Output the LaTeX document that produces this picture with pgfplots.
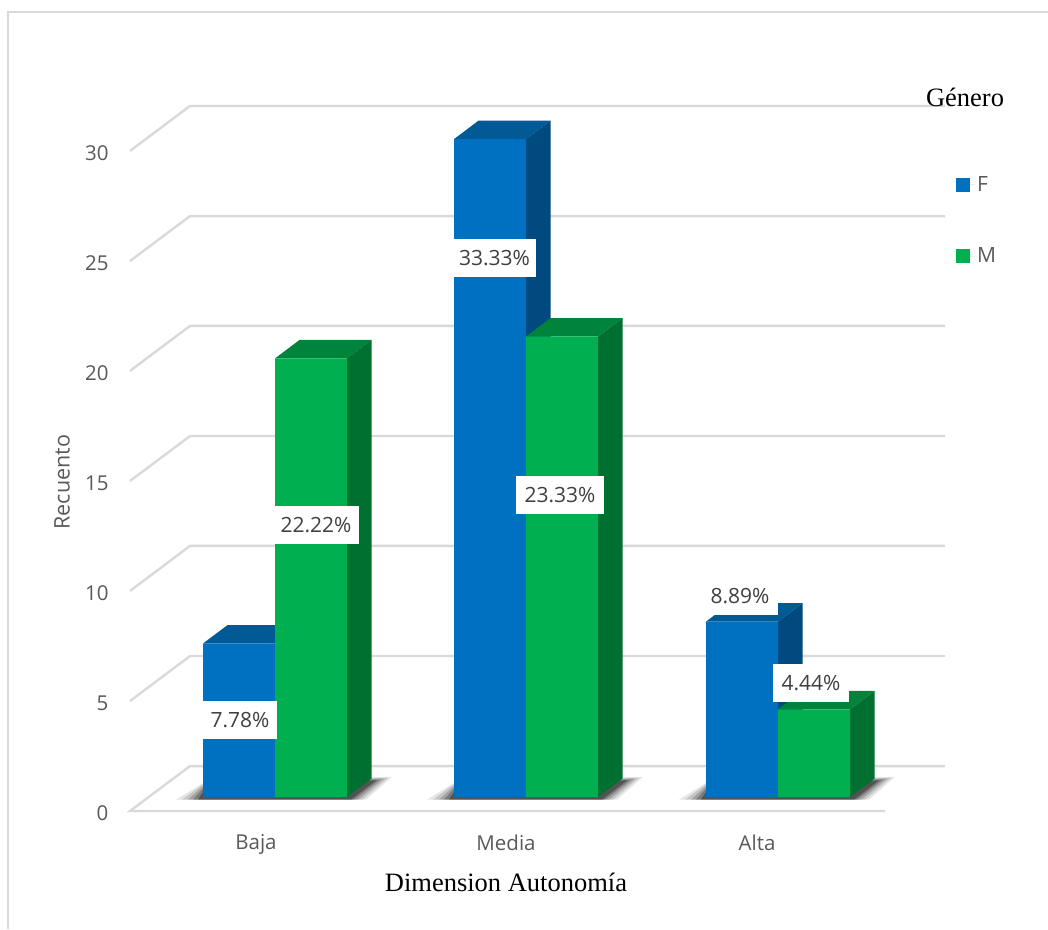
\documentclass[border=0pt]{standalone}
\usepackage{pgfplots}
\pgfplotsset{compat=1.18}
\usepackage{fontspec}
\setmainfont{Open Sans}
\newfontfamily\timesf{Liberation Serif}
\definecolor{Fc}{HTML}{0070C0}
\definecolor{Ft}{HTML}{005A96}
\definecolor{Fs}{HTML}{004A80}
\definecolor{Mc}{HTML}{00B050}
\definecolor{Mt}{HTML}{00843C}
\definecolor{Ms}{HTML}{007030}
\definecolor{gl}{HTML}{D9D9D9}
\definecolor{tx}{HTML}{595959}
\definecolor{dl}{HTML}{404040}
\begin{document}
\begin{tikzpicture}[x=1pt,y=1pt]
\useasboundingbox (0,0) rectangle (1048,929);
\begin{axis}[
  at={(120pt,118pt)},anchor=south west,
  scale only axis,width=928pt,height=811pt,
  xmin=120,xmax=1048,ymin=-0.638,ymax=36.343,
  clip=false,
  axis line style={draw=none},
  major tick length=0pt,
  xtick={256,506,757},xticklabels={Baja,Media,Alta},
  ytick={-0.638,4.378,9.394,14.41,19.43,24.44,29.46},
  yticklabels={0,5,10,15,20,25,30},
  /pgf/number format/assume math mode=true,
  ticklabel style={font=\fontsize{20.5}{24}\selectfont,text=tx},
  yticklabel style={xshift=-8pt,yshift=-2pt},
  xticklabel style={yshift=-20pt},
  legend image code/.code={\path (0pt,0pt) -- (19pt,0pt);\fill[#1] (0pt,-7pt) rectangle (14pt,7pt);},
  legend style={at={(axis cs:956,28.4)},anchor=north west,draw=none,fill=none,
    font=\fontsize{21}{24}\selectfont,text=tx,row sep=51pt,inner sep=0pt,
    cells={anchor=west}},
]
% frame
\addplot[gl,line width=2pt,forget plot] coordinates {(8,-6.019)(8,35.80)(1048,35.80)};
% grid
\addplot[gl,line width=2.4pt,forget plot] coordinates {(130,29.46)(190,31.51)(945,31.51)};
\addplot[gl,line width=2.4pt,forget plot] coordinates {(130,24.44)(190,26.49)(945,26.49)};
\addplot[gl,line width=2.4pt,forget plot] coordinates {(130,19.43)(190,21.48)(945,21.48)};
\addplot[gl,line width=2.4pt,forget plot] coordinates {(130,14.41)(190,16.46)(945,16.46)};
\addplot[gl,line width=2.4pt,forget plot] coordinates {(130,9.394)(190,11.45)(945,11.45)};
\addplot[gl,line width=2.4pt,forget plot] coordinates {(130,4.378)(190,6.43)(945,6.43)};
\addplot[gl,line width=2.4pt,forget plot] coordinates {(885,-0.638)(130,-0.638)(190,1.41)(945,1.41)};
% shadows: Baja
\addplot[draw=none,fill=black,fill opacity=0.10,forget plot] coordinates {(176,-0.12)(206,0.72)(392,0.92)(366,-0.12)} --cycle;
\addplot[draw=none,fill=black,fill opacity=0.14,forget plot] coordinates {(182,-0.12)(206,0.68)(388,0.88)(362,-0.12)} --cycle;
\addplot[draw=none,fill=black,fill opacity=0.18,forget plot] coordinates {(188,-0.12)(206,0.62)(384,0.84)(358,-0.12)} --cycle;
\addplot[draw=none,fill=black,fill opacity=0.24,forget plot] coordinates {(193,-0.12)(206,0.54)(380,0.80)(354,-0.12)} --cycle;
\addplot[draw=none,fill=black,fill opacity=0.32,forget plot] coordinates {(198,-0.12)(206,0.44)(376,0.76)(351,-0.12)} --cycle;
% shadows: Media
\addplot[draw=none,fill=black,fill opacity=0.10,forget plot] coordinates {(427,-0.12)(457,0.72)(643,0.92)(617,-0.12)} --cycle;
\addplot[draw=none,fill=black,fill opacity=0.14,forget plot] coordinates {(433,-0.12)(457,0.68)(639,0.88)(613,-0.12)} --cycle;
\addplot[draw=none,fill=black,fill opacity=0.18,forget plot] coordinates {(439,-0.12)(457,0.62)(635,0.84)(609,-0.12)} --cycle;
\addplot[draw=none,fill=black,fill opacity=0.24,forget plot] coordinates {(444,-0.12)(457,0.54)(631,0.80)(605,-0.12)} --cycle;
\addplot[draw=none,fill=black,fill opacity=0.32,forget plot] coordinates {(449,-0.12)(457,0.44)(627,0.76)(602,-0.12)} --cycle;
% shadows: Alta
\addplot[draw=none,fill=black,fill opacity=0.10,forget plot] coordinates {(679,-0.12)(709,0.72)(895,0.92)(869,-0.12)} --cycle;
\addplot[draw=none,fill=black,fill opacity=0.14,forget plot] coordinates {(685,-0.12)(709,0.68)(891,0.88)(865,-0.12)} --cycle;
\addplot[draw=none,fill=black,fill opacity=0.18,forget plot] coordinates {(691,-0.12)(709,0.62)(887,0.84)(861,-0.12)} --cycle;
\addplot[draw=none,fill=black,fill opacity=0.24,forget plot] coordinates {(696,-0.12)(709,0.54)(883,0.80)(857,-0.12)} --cycle;
\addplot[draw=none,fill=black,fill opacity=0.32,forget plot] coordinates {(701,-0.12)(709,0.44)(879,0.76)(854,-0.12)} --cycle;
% F faces
\addplot[draw=none,fill=Ft,forget plot] coordinates {(203,7)(227.5,7.84)(299.5,7.84)(275,7)} --cycle;
\addplot[draw=none,fill=Fs,forget plot] coordinates {(275,0)(299.5,0.84)(299.5,7.84)(275,7)} --cycle;
\addplot[draw=none,fill=Ft,forget plot] coordinates {(454,30)(478.5,30.84)(550.5,30.84)(526,30)} --cycle;
\addplot[draw=none,fill=Fs,forget plot] coordinates {(526,0)(550.5,0.84)(550.5,30.84)(526,30)} --cycle;
\addplot[draw=none,fill=Ft,forget plot] coordinates {(706,8)(730.5,8.84)(802.5,8.84)(778,8)} --cycle;
\addplot[draw=none,fill=Fs,forget plot] coordinates {(778,0)(802.5,0.84)(802.5,8.84)(778,8)} --cycle;
\addplot[ybar,bar width=72pt,bar shift=0pt,draw=none,fill=Fc] coordinates {(239,7)(490,30)(742,8)};
\addlegendentry{F}
% M faces
\addplot[draw=none,fill=Mt,forget plot] coordinates {(275,20)(299.5,20.84)(371.5,20.84)(347,20)} --cycle;
\addplot[draw=none,fill=Ms,forget plot] coordinates {(347,0)(371.5,0.84)(371.5,20.84)(347,20)} --cycle;
\addplot[draw=none,fill=Mt,forget plot] coordinates {(526,21)(550.5,21.84)(622.5,21.84)(598,21)} --cycle;
\addplot[draw=none,fill=Ms,forget plot] coordinates {(598,0)(622.5,0.84)(622.5,21.84)(598,21)} --cycle;
\addplot[draw=none,fill=Mt,forget plot] coordinates {(778,4)(802.5,4.84)(874.5,4.84)(850,4)} --cycle;
\addplot[draw=none,fill=Ms,forget plot] coordinates {(850,0)(874.5,0.84)(874.5,4.84)(850,4)} --cycle;
\addplot[ybar,bar width=72pt,bar shift=0pt,draw=none,fill=Mc] coordinates {(311,20)(562,21)(814,4)};
\addlegendentry{M}
% data labels
\tikzset{dlab/.style={fill=white,text=dl,inner sep=0pt,minimum height=38pt,font=\fontsize{21}{24}\selectfont}}
\node[dlab,minimum width=74pt] at (axis cs:240,3.51) {7.78\%};
\node[dlab,minimum width=83pt] at (axis cs:494.5,24.58) {33.33\%};
\node[dlab,minimum width=86pt] at (axis cs:316,12.40) {22.22\%};
\node[dlab,minimum width=88pt] at (axis cs:560,13.79) {23.33\%};
\node[dlab,minimum width=76pt] at (axis cs:740,9.17) {8.89\%};
\node[dlab,minimum width=76pt] at (axis cs:811,5.20) {4.44\%};
% titles
\node[rotate=90,text=tx,font=\fontsize{21.5}{24}\selectfont] at (axis cs:62,14.36) {Recuento};
\node[font=\timesf\fontsize{26.5}{30}\selectfont] at (axis cs:506,-3.876) {Dimension Autonomía};
\node[font=\timesf\fontsize{26.5}{30}\selectfont] at (axis cs:965,31.92) {Género};
\end{axis}
\end{tikzpicture}
\end{document}
